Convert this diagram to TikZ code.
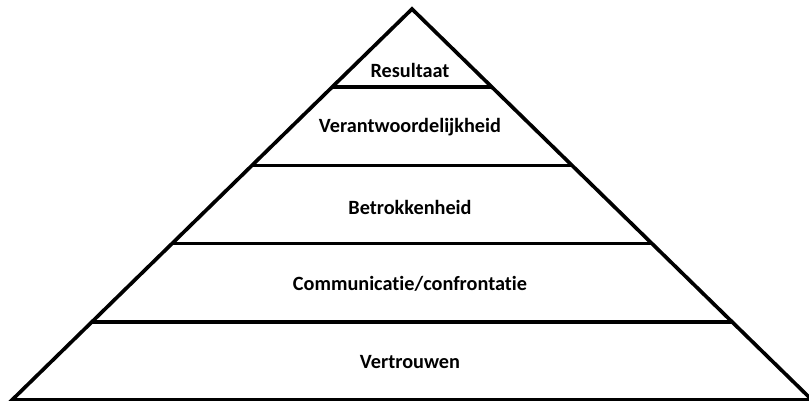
\documentclass[tikz,border=0pt]{standalone}
\usepackage{fontspec}
\setmainfont{Carlito}[Ligatures=NoCommon]
\usetikzlibrary{calc}
\tikzset{laag/.style={font=\bfseries\fontsize{14.4}{16}\selectfont,anchor=center}}

\begin{document}
\begin{tikzpicture}[x=0.025cm,y=-0.025cm,line width=2.6pt]
	  \useasboundingbox (0,0) rectangle (809,401);
	  \path (12,400) coordinate (A)
	          (812,400) coordinate (B)
	          (412,9) coordinate (T);
	      \draw[line join=miter] (A)--(T)--(B)--cycle;
	      \foreach \i in {1,2,3,4}{
	           \draw ($ (A)!\i/5!(T) $) coordinate (L\i) -- ($ (B)!\i/5!(T) $) coordinate (R\i);
	      }
	      \foreach \naam/\tekst/\y in {n1/Vertrouwen/362,n2/Communicatie\slash confrontatie/284,n3/Betrokkenheid/207,n4/Verantwoordelijkheid/127,n5/Resultaat/70}{
	           \node[laag] (\naam) at (410,\y) {\tekst};
	      }
\end{tikzpicture}
\end{document}
